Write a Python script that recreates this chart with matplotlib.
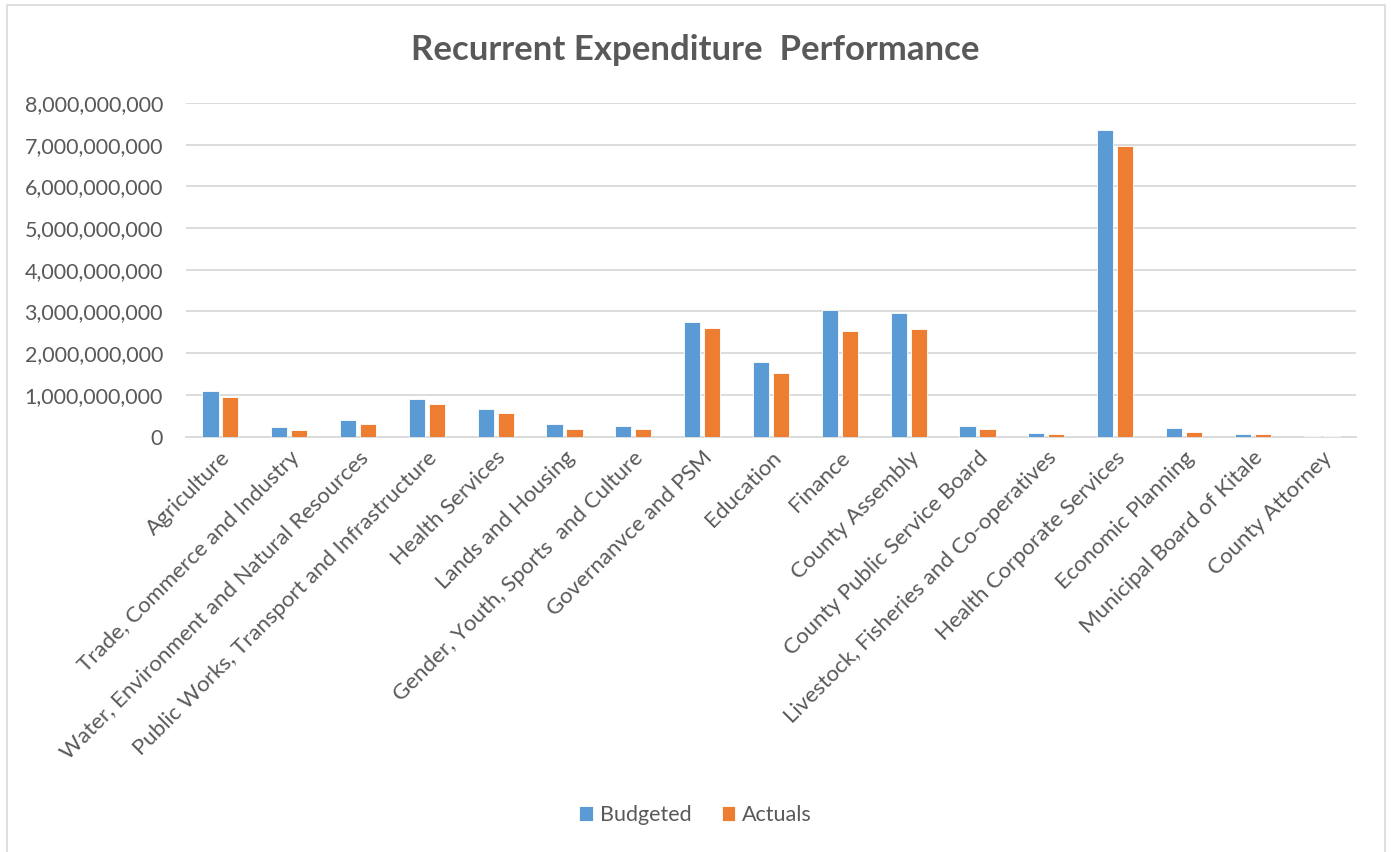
import matplotlib
matplotlib.use("Agg")
import matplotlib.pyplot as plt
import numpy as np
from matplotlib.ticker import FuncFormatter, MultipleLocator
from matplotlib.patches import Rectangle

categories = [
    "Agriculture",
    "Trade, Commerce and Industry",
    "Water, Environment and Natural Resources",
    "Public Works, Transport and Infrastructure",
    "Health Services",
    "Lands and Housing",
    "Gender, Youth, Sports  and Culture",
    "Governanvce and PSM",
    "Education",
    "Finance",
    "County Assembly",
    "County Public Service Board",
    "Livestock, Fisheries and Co-operatives",
    "Health Corporate Services",
    "Economic Planning",
    "Municipal Board of Kitale",
    "County Attorney",
]
budgeted = [1.10e9, 0.225e9, 0.385e9, 0.905e9, 0.665e9, 0.305e9, 0.25e9, 2.74e9, 1.79e9,
            3.04e9, 2.96e9, 0.25e9, 0.095e9, 7.35e9, 0.20e9, 0.07e9, 0.02e9]
actuals = [0.945e9, 0.16e9, 0.30e9, 0.79e9, 0.575e9, 0.19e9, 0.18e9, 2.61e9, 1.52e9,
           2.54e9, 2.58e9, 0.17e9, 0.05e9, 6.96e9, 0.10e9, 0.05e9, 0.008e9]
series_names = ["Budgeted", "Actuals"]
title = "Recurrent Expenditure  Performance"

plt.rcParams['font.family'] = ['Lato', 'DejaVu Sans']
text_color = "#595959"
grid_color = "#d9d9d9"
blue = "#5b9bd5"
orange = "#ed7d31"

W, H = 1391, 852
fig = plt.figure(figsize=(W / 100, H / 100), dpi=100)
fig.patches.append(Rectangle((7 / W, -10 / H), (1385 - 7) / W, (847 + 10) / H,
                             transform=fig.transFigure, fill=False,
                             edgecolor="#d9d9d9", linewidth=1.2))

left, right = 186, 1356
top, bottom = 103, 436.5
ax = fig.add_axes([left / W, 1 - bottom / H, (right - left) / W, (bottom - top) / H])

x = np.arange(len(categories))
bw = 0.235
ax.bar(x - 0.145, budgeted, width=bw, color=blue, edgecolor="white", linewidth=0.6,
       label=series_names[0], zorder=3)
ax.bar(x + 0.145, actuals, width=bw, color=orange, edgecolor="white", linewidth=0.6,
       label=series_names[1], zorder=3)

ax.set_xlim(-0.5, len(categories) - 0.5)
ax.set_ylim(0, 8e9)
ax.yaxis.set_major_locator(MultipleLocator(1e9))
ax.yaxis.set_major_formatter(FuncFormatter(lambda v, p: f"{int(round(v)):,}"))
ax.grid(axis="y", color=grid_color, linewidth=1.3, zorder=0)
for s in ["top", "right", "left"]:
    ax.spines[s].set_visible(False)
ax.spines["bottom"].set_color(grid_color)
ax.spines["bottom"].set_linewidth(1.3)
ax.tick_params(axis="both", length=0, labelsize=15.5, colors=text_color)
ax.tick_params(axis="y", pad=16.5)
ax.set_xticks(x)
ax.set_xticklabels(categories, rotation=45, ha="right", va="top",
                   rotation_mode="anchor", fontsize=16, color=text_color)
ax.tick_params(axis="x", pad=8)

fig.text(0.5, 1 - 50 / H, title, ha="center", va="center", fontsize=25,
         fontweight="bold", color=text_color)

leg = fig.legend(loc="center", bbox_to_anchor=(0.5, 1 - 815 / H), ncol=2,
                 frameon=False, fontsize=15.5, handlelength=0.65, handleheight=0.65,
                 handletextpad=0.3, columnspacing=1.4)
for t in leg.get_texts():
    t.set_color(text_color)

fig.savefig("out.png", dpi=100)
